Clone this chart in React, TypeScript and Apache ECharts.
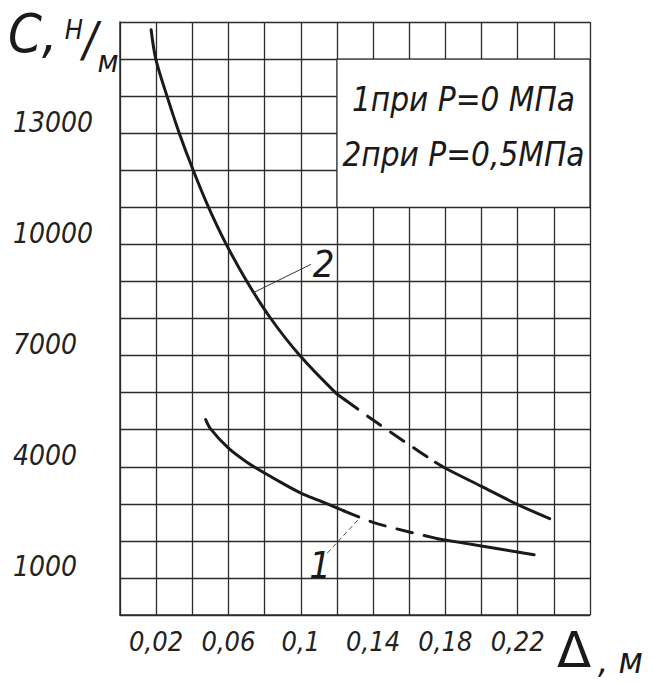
import React, { useEffect, useRef } from "react";
import * as echarts from "echarts";

// Axis ranges
const X_MIN = 0;
const X_MAX = 0.26;
const X_STEP = 0.02;
const Y_MIN = 0;
const Y_MAX = 16000;
const Y_STEP = 1000;

// Tick labels shown
const xTickLabels = [0.02, 0.06, 0.1, 0.14, 0.18, 0.22];
const yTickLabels = [1000, 4000, 7000, 10000, 13000];

// Curve 2 (P = 0.5 MPa)
const curve2SolidA: [number, number][] = [
  [0.0172, 15790], [0.0198, 15000], [0.026, 14000], [0.0328, 13000], [0.0405, 12000],
  [0.049, 11000], [0.0588, 10000], [0.0702, 9000], [0.0834, 8000], [0.0995, 7000],
  [0.1192, 6000], [0.1244, 5810],
];
const curve2Dashed: [number, number][] = [
  [0.1244, 5810], [0.14, 5260], [0.16, 4590], [0.1745, 4120],
];
const curve2SolidB: [number, number][] = [
  [0.1745, 4120], [0.18, 3960], [0.2, 3470], [0.22, 2980], [0.2377, 2600],
];

// Curve 1 (P = 0 MPa)
const curve1SolidA: [number, number][] = [
  [0.0474, 5270], [0.05, 5030], [0.06, 4500], [0.07, 4130], [0.08, 3830],
  [0.09, 3550], [0.1, 3290], [0.11, 3090], [0.1239, 2810],
];
const curve1Dashed: [number, number][] = [
  [0.1239, 2810], [0.14, 2500], [0.16, 2240], [0.1756, 2060],
];
const curve1SolidB: [number, number][] = [
  [0.1756, 2060], [0.2, 1860], [0.22, 1700], [0.2291, 1625],
];

// Leader lines for curve numbers
const leader2: [number, number][] = [[0.0739, 8700], [0.1056, 9460]];
const leader1: [number, number][] = [[0.1146, 1667], [0.1322, 2595]];

// Legend box (data coordinates)
const legendBox: [number, number][] = [[0.12, 15000], [0.26, 11000]];
const legendLines = ["1при Р=0 МПа", "2при Р=0,5МПа"];

const FONT = "'DejaVu Sans Condensed', 'Liberation Sans Narrow', 'DejaVu Sans', sans-serif";
const INK = "#1a1a1a";
const GRID_INK = "#2b2b2b";

const isIn = (arr: number[], v: number) => arr.some((t) => Math.abs(t - v) < 1e-6);
const fmtX = (v: number) => String(+v.toFixed(2)).replace(".", ",");

function curveSeries(data: [number, number][], dashed: boolean, extra: any = {}) {
  return {
    type: "line",
    data,
    smooth: 0.3,
    symbol: "none",
    showSymbol: false,
    silent: true,
    lineStyle: {
      color: INK,
      width: 3,
      type: dashed ? [16, 12] : "solid",
      cap: "round",
    },
    z: 3,
    ...extra,
  };
}

export default function App() {
  const ref = useRef<HTMLDivElement>(null);
  useEffect(() => {
    const chart = echarts.init(ref.current!, null, { renderer: "svg" });
    const option: any = {
      animation: false,
      backgroundColor: "#ffffff",
      grid: { left: 120, right: 63, top: 22, bottom: 69, show: false },
      xAxis: {
        type: "value",
        min: X_MIN,
        max: X_MAX,
        interval: X_STEP,
        axisLine: { show: true, lineStyle: { color: GRID_INK, width: 1.5 } },
        axisTick: { show: false },
        splitLine: { show: true, lineStyle: { color: GRID_INK, width: 1.3 } },
        axisLabel: {
          margin: 13,
          fontFamily: FONT,
          fontStyle: "italic",
          fontSize: 27,
          color: "#222",
          formatter: (v: number) => (isIn(xTickLabels, v) ? fmtX(v) : ""),
        },
      },
      yAxis: {
        type: "value",
        min: Y_MIN,
        max: Y_MAX,
        interval: Y_STEP,
        axisLine: { show: true, lineStyle: { color: GRID_INK, width: 1.5 } },
        axisTick: { show: false },
        splitLine: { show: true, lineStyle: { color: GRID_INK, width: 1.3 } },
        axisLabel: {
          margin: 107,
          align: "left",
          verticalAlign: "bottom",
          lineHeight: 22,
          fontFamily: FONT,
          fontStyle: "italic",
          fontSize: 28,
          color: "#222",
          formatter: (v: number) => (isIn(yTickLabels, v) ? String(v) : ""),
        },
      },
      series: [
        curveSeries(curve2SolidA, false, {
          markArea: {
            silent: true,
            itemStyle: { color: "#ffffff", borderColor: GRID_INK, borderWidth: 1.3 },
            label: {
              show: true,
              position: "inside",
              formatter: legendLines.join("\n"),
              fontFamily: FONT,
              fontStyle: "italic",
              fontSize: 33,
              lineHeight: 55,
              color: INK,
              offset: [0, -6],
            },
            data: [[{ coord: legendBox[0] }, { coord: legendBox[1] }]],
          },
          markLine: {
            silent: true,
            symbol: ["none", "none"],
            lineStyle: { color: "#333", width: 1, type: "solid" },
            label: {
              show: true,
              position: "end",
              formatter: "2",
              fontFamily: FONT,
              fontStyle: "italic",
              fontSize: 38,
              color: INK,
              distance: 2,
            },
            data: [[{ coord: leader2[0] }, { coord: leader2[1] }]],
          },
        }),
        curveSeries(curve2Dashed, true),
        curveSeries(curve2SolidB, false),
        curveSeries(curve1SolidA, false, {
          markLine: {
            silent: true,
            symbol: ["none", "none"],
            lineStyle: { color: "#555", width: 1, type: [5, 3] },
            label: {
              show: true,
              position: "start",
              formatter: "1",
              fontFamily: FONT,
              fontStyle: "italic",
              fontSize: 38,
              color: INK,
              distance: 0,
              offset: [-7, 12],
            },
            data: [[{ coord: leader1[0] }, { coord: leader1[1] }]],
          },
        }),
        curveSeries(curve1Dashed, true),
        curveSeries(curve1SolidB, false),
      ],
      graphic: [
        {
          type: "text",
          left: 8,
          top: 6,
          style: {
            text: "{c|C,} {h|Н}{s|/}{m|м}",
            fontFamily: FONT,
            fontStyle: "italic",
            fill: INK,
            rich: {
              c: { fontFamily: FONT, fontStyle: "italic", fontSize: 54, fill: INK },
              h: { fontFamily: FONT, fontStyle: "italic", fontSize: 27, fill: INK, padding: [0, 0, 8, 4] },
              s: { fontFamily: FONT, fontStyle: "italic", fontSize: 48, fill: INK, padding: [12, 0, 0, 0] },
              m: { fontFamily: FONT, fontStyle: "italic", fontSize: 31, fill: INK, padding: [56, 0, 0, 0] },
            },
          },
        },
        {
          type: "text",
          left: 557,
          top: 625,
          style: {
            text: "Δ",
            fontFamily: "'DejaVu Sans', sans-serif",
            fontSize: 50,
            lineHeight: 50,
            fill: INK,
          },
        },
        {
          type: "text",
          left: 598,
          top: 640,
          style: { text: ", м", fontFamily: FONT, fontStyle: "italic", fontSize: 36, lineHeight: 40, fill: INK },
        },
      ],
    };
    chart.setOption(option);
    return () => chart.dispose();
  }, []);
  return (
    <div
      ref={ref}
      style={{ position: "fixed", left: 0, top: 0, width: 653, height: 684, background: "#fff" }}
    />
  );
}
